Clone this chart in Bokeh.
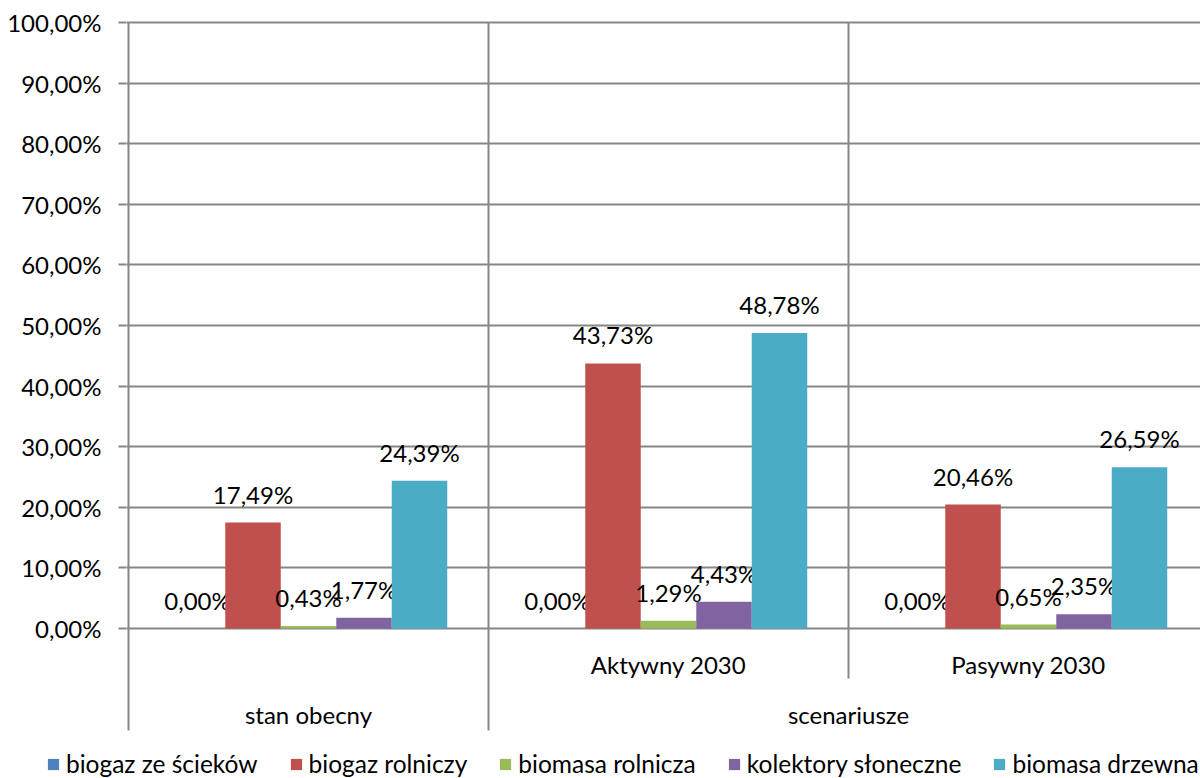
from bokeh.plotting import figure
from bokeh.layouts import column
from bokeh.models import FixedTicker, Legend, LegendItem, ColumnDataSource, Range1d
from bokeh.core.properties import value
from bokeh.embed import file_html
from bokeh.resources import INLINE

# ---------------- data ----------------
categories = ["stan obecny", "Aktywny 2030", "Pasywny 2030"]
outer_labels = ["stan obecny", "scenariusze"]
outer_spans = [(0, 1), (1, 3)]          # category index ranges of the outer level
series_names = ["biogaz ze ścieków", "biogaz rolniczy", "biomasa rolnicza",
                "kolektory słoneczne", "biomasa drzewna"]
biogaz_ze_sciekow = [0.00, 0.00, 0.00]
biogaz_rolniczy = [17.49, 43.73, 20.46]
biomasa_rolnicza = [0.43, 1.29, 0.65]
kolektory_sloneczne = [1.77, 4.43, 2.35]
biomasa_drzewna = [24.39, 48.78, 26.59]
series_values = [biogaz_ze_sciekow, biogaz_rolniczy, biomasa_rolnicza,
                 kolektory_sloneczne, biomasa_drzewna]
series_colors = ["#4F81BD", "#C0504D", "#9BBB59", "#8064A2", "#4BACC6"]
y_ticks = [0, 10, 20, 30, 40, 50, 60, 70, 80, 90, 100]
y_tick_labels = ["0,00%", "10,00%", "20,00%", "30,00%", "40,00%", "50,00%",
                 "60,00%", "70,00%", "80,00%", "90,00%", "100,00%"]

# ---------------- layout (pixels) ----------------
W = 1200
H_MAIN, H_LEG = 745, 33
FRAME_LEFT, FRAME_TOP = 126, 16
X0_PX, GROUP_PX = 128, 360
Y0_PX, Y100_PX = 628, 22
PPU = (Y0_PX - Y100_PX) / 100.0
BAR_W = 55.5 / GROUP_PX
GRID = "#868686"
FONT = "Lato"
TXT = "#000000"

def y_of_px(py):
    return (Y0_PX - py) / PPU

x_range = Range1d(-(X0_PX - FRAME_LEFT) / GROUP_PX, (W - X0_PX) / GROUP_PX)
y_range = Range1d(y_of_px(H_MAIN), y_of_px(FRAME_TOP))

p = figure(width=W, height=H_MAIN, x_range=x_range, y_range=y_range,
           output_backend="svg", toolbar_location=None, x_axis_location=None,
           min_border_left=FRAME_LEFT, min_border_right=0,
           min_border_top=FRAME_TOP, min_border_bottom=0,
           outline_line_color=None, background_fill_color="white",
           border_fill_color="white")
p.frame_align = False

p.xgrid.visible = False
p.ygrid.ticker = FixedTicker(ticks=y_ticks)
p.ygrid.grid_line_color = GRID
p.ygrid.grid_line_width = 2

ax = p.yaxis[0]
ax.ticker = FixedTicker(ticks=y_ticks)
ax.major_label_overrides = {t: l for t, l in zip(y_ticks, y_tick_labels)}
ax.axis_line_color = None
ax.major_tick_in = 0
ax.major_tick_out = 8
ax.major_tick_line_color = GRID
ax.major_tick_line_width = 2
ax.minor_tick_out = 0
ax.minor_tick_in = 0
ax.major_label_standoff = 17
ax.major_label_text_font = FONT
ax.major_label_text_font_size = "24px"
ax.major_label_text_color = TXT

# category separators (group boundaries) and axis line
lvl1_bottom = y_of_px(678)
lvl2_bottom = y_of_px(730)
outer_bounds = sorted(set([s for s, e in outer_spans]))
sep_x = [0, 1, 2]
sep_y1 = [lvl2_bottom if x in outer_bounds else lvl1_bottom for x in sep_x]
p.segment(x0=sep_x, y0=[100] * len(sep_x), x1=sep_x, y1=sep_y1,
          line_color=GRID, line_width=2)

# bars
n = len(series_names)
for i, (name, vals, col) in enumerate(zip(series_names, series_values, series_colors)):
    xs = [g + 0.5 + (i - (n - 1) / 2) * BAR_W for g in range(len(categories))]
    src = ColumnDataSource(dict(x=xs, top=vals,
                                lab=[f"{v:.2f}".replace(".", ",") + "%" for v in vals]))
    p.vbar(x="x", top="top", bottom=0, width=BAR_W, source=src,
           fill_color=col, line_color=None)
    p.text(x="x", y="top", text="lab", source=src, text_align="center",
           text_baseline="bottom", y_offset=-14, text_font=value(FONT),
           text_font_size="24px", text_color=TXT)

# category labels
inner_x = [g + 0.5 for g in range(len(categories))]
inner_txt = [c if c not in outer_labels else "" for c in categories]
p.text(x=inner_x, y=[y_of_px(664)] * len(inner_x), text=inner_txt,
       text_align="center", text_baseline="middle", text_font=value(FONT),
       text_font_size="24px", text_color=TXT)
outer_x = [(s + e) / 2 for s, e in outer_spans]
p.text(x=outer_x, y=[y_of_px(714)] * len(outer_x), text=outer_labels,
       text_align="center", text_baseline="middle", text_font=value(FONT),
       text_font_size="24px", text_color=TXT)

# legend strip below the chart
lf = figure(width=W, height=H_LEG, x_range=Range1d(0, 1), y_range=Range1d(0, 1),
            output_backend="svg", toolbar_location=None,
            x_axis_location=None, y_axis_location=None,
            min_border_left=0, min_border_right=0, min_border_top=0,
            min_border_bottom=0, outline_line_color=None,
            background_fill_color="white", border_fill_color="white")
lf.frame_align = False
lf.xgrid.visible = False
lf.ygrid.visible = False
items = []
for name, col in zip(series_names, series_colors):
    # legend swatch renderer; its single bar lies outside the visible range
    r = lf.vbar(x=[5], top=[1], width=0.1, fill_color=col, line_color=None)
    items.append(LegendItem(label=name, renderers=[r]))
legend = Legend(items=items, location=(46, 0), orientation="horizontal",
                glyph_width=14, glyph_height=14, label_standoff=6, spacing=31,
                padding=0, margin=0, border_line_color=None,
                background_fill_alpha=0, label_text_font=FONT,
                label_text_font_size="24.5px", label_text_color=TXT)
lf.add_layout(legend)

layout = column(p, lf, spacing=0)
open("out.html", "w").write(file_html(layout, INLINE))
